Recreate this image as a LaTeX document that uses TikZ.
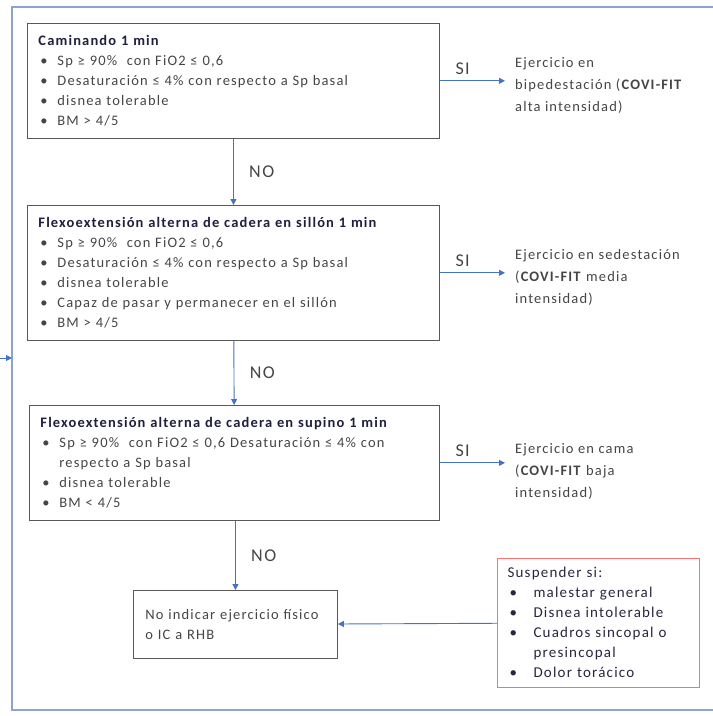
\documentclass[tikz,border=0pt]{standalone}
\usepackage{fontspec}
\setmainfont{Carlito}[LetterSpace=8, BoldFeatures={LetterSpace=8}]
\usetikzlibrary{positioning,arrows.meta}
\definecolor{framecol}{HTML}{8FA2D4}
\definecolor{arrowcol}{HTML}{4472C4}
\definecolor{boxline}{HTML}{595959}
\definecolor{txtcol}{HTML}{454545}
\definecolor{titlecol}{HTML}{1F1F3F}
\definecolor{redline}{HTML}{FF6F6F}
\definecolor{redtxt}{HTML}{2B2440}
\newcommand{\bl}{\hspace*{2pt}\makebox[17pt][l]{\textbullet}}
\newcommand{\cont}{\hspace*{19pt}}

\begin{document}
\begin{tikzpicture}[x=1pt,y=-1pt,
		every node/.style={font=\fontsize{14.5}{20}\selectfont, text=txtcol},
		cond/.style={draw=boxline, line width=0.9pt, anchor=north west,
			align=left, text width=#1, inner xsep=11pt, inner ysep=12pt},
		res/.style={anchor=west, align=left, inner sep=10pt,
			font=\fontsize{14.5}{22}\selectfont},
		lbl/.style={font=\fontsize{18}{20}\selectfont, text=txtcol},
		arr/.style={draw=arrowcol, line width=0.9pt,
			-{Triangle[length=6pt,width=6pt]}},
		]
		\useasboundingbox (0,0) rectangle (713,716);

		% frame round the whole scheme
		\draw[framecol, line width=1.2pt] (725,7) -- (12,7) -- (12,710) -- (725,710);
		\coordinate (back) at (0,358);
		\coordinate (frame) at (12,358);
		\draw[arr] (back) -- (frame);

		\node (camina) [cond=390pt] at (27,23) {\textcolor{titlecol}{\textbf{Caminando 1 min}}\\
			\bl Sp ≥ 90\%~ con FiO2 ≤ 0,6\\
			\bl Desaturación ≤ 4\% con respecto a Sp basal\\
			\bl disnea tolerable\\
			\bl BM > 4/5};
		\node (sillon) [cond=390pt] at (27,205) {\textcolor{titlecol}{\textbf{Flexoextensión alterna de cadera en sillón 1 min}}\\
			\bl Sp ≥ 90\%~ con FiO2 ≤ 0,6\\
			\bl Desaturación ≤ 4\% con respecto a Sp basal\\
			\bl disnea tolerable\\
			\bl Capaz de pasar y permanecer en el sillón\\
			\bl BM > 4/5};
		\node (supino) [cond=388pt] at (29,405) {\textcolor{titlecol}{\textbf{Flexoextensión alterna de cadera en supino 1 min}}\\
			\bl Sp ≥ 90\%~ con FiO2 ≤ 0,6 Desaturación ≤ 4\% con\\
			\cont respecto a Sp basal\\
			\bl disnea tolerable\\
			\bl BM < 4/5};
		\node (noind) [cond=180pt, inner xsep=12pt, inner ysep=10pt, minimum height=68pt] at (133,590)
			{No indicar ejercicio físico\\o IC a RHB\\[4pt]};
		\node (susp) [cond=182pt, draw=redline, line width=1.1pt, inner xsep=10pt, inner ysep=9pt,
			font=\fontsize{15}{20}\selectfont, text=redtxt] at (497,558)
			{Suspender si:\\
			\bl\hspace*{2pt} malestar general\\
			\bl\hspace*{2pt} Disnea intolerable\\
			\bl\hspace*{2pt} Cuadros sincopal o\\
			\cont\hspace*{2pt} presincopal\\
			\bl\hspace*{2pt} Dolor torácico};

		\node (bipe) [res] at (505,86) {Ejercicio en\\bipedestación (\textbf{COVI-FIT}\\alta intensidad)};
		\node (sede) [res] at (505,277) {Ejercicio en sedestación\\(\textbf{COVI-FIT} media\\intensidad)};
		\node (cama) [res] at (505,472) {Ejercicio en cama\\(\textbf{COVI-FIT} baja\\intensidad)};

		\draw[arr] (camina) -- (sillon) node[midway, right=12pt, lbl] {NO};
		\draw[arr] (sillon) -- (supino) node[midway, right=12pt, lbl] {NO};
		\draw[arr] (supino.south -| noind.north) -- (noind) node[midway, right=12pt, lbl] {NO};
		\draw[arr] (camina.east) -- (camina.east -| bipe.west) node[pos=0.35, above=2pt, lbl] {SI};
		\draw[arr] (sillon.east) -- (sillon.east -| sede.west) node[pos=0.35, above=2pt, lbl] {SI};
		\draw[arr] (supino.east) -- (supino.east -| cama.west) node[pos=0.35, above=2pt, lbl] {SI};
		\draw[arr] (susp) -- (noind);
	\end{tikzpicture}
\end{document}
